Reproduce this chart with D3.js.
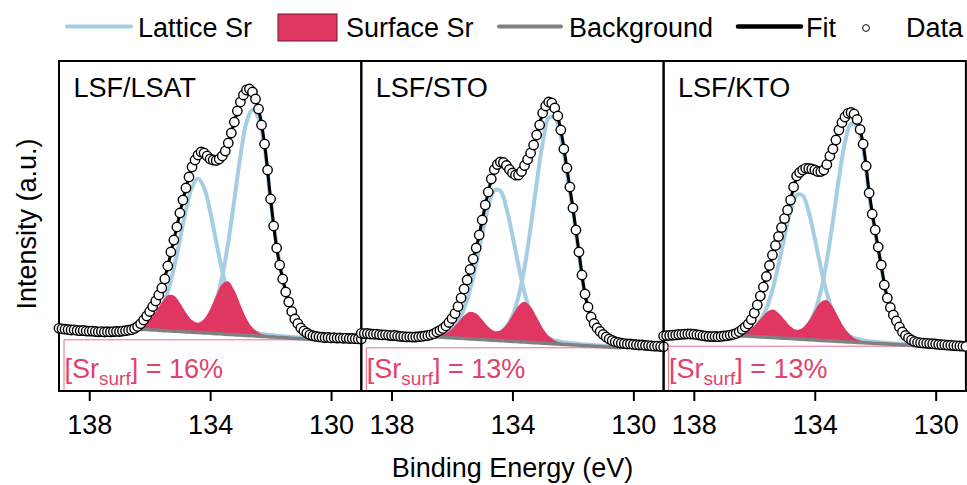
<!DOCTYPE html>
<html>
<head>
<meta charset="utf-8">
<script src="https://cdn.jsdelivr.net/npm/d3@7"></script>
<style>
  body { margin: 0; background: #fff; }
  svg { display: block; }
  text { font-family: "Liberation Sans", Arial, sans-serif; }
</style>
</head>
<body>
<div id="chart"></div>
<script>

// panel titles and surface fractions
let panelNames = ["LSF/LSAT", "LSF/STO", "LSF/KTO"];
let surfPercent = [16, 13, 13];
let xTicks = [138, 134, 130];

// binding energy of the measured points (eV)
let dataEnergy = [139.0,138.9,138.8,138.7,138.6,138.5,138.4,138.3,138.2,138.1,138.0,137.9,137.8,137.7,137.6,137.5,137.4,137.3,137.2,137.1,137.0,136.9,136.8,136.7,136.6,136.5,136.4,136.3,136.2,136.1,136.0,135.9,135.8,135.7,135.6,135.5,135.4,135.3,135.2,135.1,135.0,134.9,134.8,134.7,134.6,134.5,134.4,134.3,134.2,134.1,134.0,133.9,133.8,133.7,133.6,133.5,133.4,133.3,133.2,133.1,133.0,132.9,132.8,132.7,132.6,132.5,132.4,132.3,132.2,132.1,132.0,131.9,131.8,131.7,131.6,131.5,131.4,131.3,131.2,131.1,131.0,130.9,130.8,130.7,130.6,130.5,130.4,130.3,130.2,130.1,130.0,129.9,129.8,129.7,129.6,129.5,129.4,129.3,129.2,129.1,129.0];

// binding energy of the fit / component curves (eV)
let compEnergy = [136.6,136.4,136.2,136.0,135.8,135.6,135.4,135.2,135.0,134.8,134.6,134.4,134.2,134.0,133.8,133.6,133.4,133.2,133.0,132.8,132.6,132.4,132.2,132.0,131.8,131.6,131.4,131.2,131.0,130.8,130.6,130.4];

// LSF/LSAT
let dataLSAT = [62.7,62.2,61.8,61.5,61.0,61.2,60.6,60.3,60.5,60.0,59.8,59.9,59.5,59.2,59.4,59.0,59.3,59.1,59.4,59.6,59.5,59.9,60.3,60.8,61.3,62.6,64.5,67.3,71,75,79.5,84.5,90,96,103,112,125,139,151,164,178,191,203,214,224,231,236,239,238,235,232,231,230.5,232,235,240,248,258,269,280,289,296,301,302,299,292,282,266,247,221,192,165,143,126,112,99,89,79.5,72,67.5,63,60,58,56.3,55.3,54.6,54.2,53.8,53.4,53.6,53.1,53.3,52.9,53.1,52.7,52.9,52.5,52.6,52.3,52.1,52.0];
let fitLSAT = [61.8,64.5,71,79.5,90,103,125,151,178,203,224,235,236,230,229,234,248,269,289,300.5,299,282,247,192,143,112,89,72,63,58,55.3,54.2];
let bgLSAT = [62.4,62.0,61.6,61.3,60.9,60.5,60.2,59.8,59.5,59.1,58.8,58.4,58.1,57.7,57.3,57.0,56.6,56.2,55.9,55.5,55.2,54.8,54.4,54.1,53.7,53.4,53.0,52.6,52.3,51.9,51.5,51.2];
let lat52LSAT = [1.0,1.1,1.2,1.4,1.6,1.7,2.0,2.3,2.7,3.3,4.4,6.4,10.6,18.8,33.7,57.8,92.4,135.0,178.8,212.9,226.0,218.0,190.0,136.0,92.4,57.8,33.7,18.8,10.6,6.4,4.4,3.3];
let lat32LSAT = [2.3,3.0,4.4,7.2,12.8,22.9,39.4,63.0,92.0,121.8,145.1,154.0,145.1,121.8,92.0,63.0,39.4,22.9,12.8,7.2,4.4,3.0,2.3,1.8,1.6,1.4,1.2,1.1,0.9,0.85,0.75,0.7];
let surfLSAT = [1.2,2.2,4.8,10.0,18.3,28.2,35.5,35.6,28.5,19.2,12.1,9.9,13.9,24.1,38.0,50.0,53.0,44.5,30.4,17.1,8.3,3.8,1.8,1.1,0.8,0.6,0.5,0.4,0.3,0.3,0.2,0.2];

// LSF/STO
let dataSTO = [57.7,57.4,57.5,57.0,56.8,56.9,56.4,56.1,56.2,55.7,55.4,55.5,55.0,54.6,54.4,54.1,54.2,53.9,54.0,54.3,54.6,55.1,55.5,56.2,57.3,59,60.5,62.5,65,68.5,72.5,77.5,84.5,93,102,111,121.5,132,143,156,171,186,199,212,221.5,226.5,229,228.5,225.5,221.5,218,216,216,219.5,225.5,231.5,238,246,256,266,278,285,289,288,283,275,261,242,223,204,183,161,139,116,97,84,74,67.5,63,59.5,56.5,54,52,50.5,49.3,48.5,47.8,47.4,47.0,47.1,46.6,46.3,46.0,46.1,45.6,45.4,45.1,44.8,44.9,44.5,44.3];
let fitSTO = [57.3,60.5,65,72.5,84.5,102,121.5,143,171,199,220,227.5,224,216.5,214.5,224,238,256,277.5,288.5,283,261,223,183,139,97,74,63,56.5,52,49.3,47.8];
let bgSTO = [54.2,53.9,53.5,53.2,52.8,52.5,52.1,51.7,51.4,51.0,50.7,50.3,50.0,49.6,49.3,48.9,48.5,48.2,47.8,47.5,47.1,46.8,46.4,46.1,45.7,45.3,45.0,44.6,44.3,43.9,43.6,43.2];
let lat52STO = [1.1,1.2,1.3,1.5,1.7,1.9,2.2,2.5,3.0,3.8,5.3,8.2,14.2,25.6,45.1,74.8,114.5,159.4,200.4,225.6,226.0,208.0,172.0,134.0,91.0,51.0,27.6,17.1,11.1,7.1,4.9,3.8];
let lat32STO = [2.5,3.5,5.5,9.4,17.0,29.9,49.7,76.0,105.8,133.0,149.8,149.8,133.0,105.8,76.0,49.7,29.9,17.0,9.4,5.5,3.5,2.5,2.0,1.7,1.4,1.25,1.1,1.0,0.9,0.8,0.7,0.7];
let surfSTO = [1.0,2.0,4.3,8.9,15.6,22.9,27.2,25.8,19.9,13.2,9.4,10.2,16.2,26.1,36.0,40.3,35.9,25.7,15.2,7.6,3.4,1.6,0.9,0.6,0.5,0.4,0.3,0.25,0.2,0.2,0.15,0.15];

// LSF/KTO
let dataKTO = [55.0,55.4,55.6,55.9,56.1,56.5,56.7,56.9,57.1,57.0,56.8,56.3,55.9,55.3,54.9,54.6,54.4,54.5,54.3,54.6,55.0,55.3,55.9,56.6,57.6,59.3,61.5,64,67,71.5,78,86,95,104,114.5,125.5,136,145.5,154.5,163.5,172.5,181,191,204,215,218.5,221,222.7,222.5,222,221,219.5,219.5,221,226.5,235,242,251,261,268.5,274,277.7,278.5,277,271.5,261.5,247,225,198,177,161,144,126,106,93,83.5,76,70,64,59,55.5,53,51,49.5,48.7,48.2,47.9,47.7,47.4,47.3,47.0,46.6,46.3,46.2,45.8,45.7,45.4,45.2,45.0,44.8,44.6];
let fitKTO = [57.6,61.5,67,78,95,114.5,136,154.5,172.5,191.5,213,220.5,222,220.5,218.5,226,242,261,274,278.5,271.5,247,199,160,125,93,76,64,55.5,51,48.7,47.9];
let bgKTO = [55.4,55.1,54.7,54.4,54.1,53.7,53.4,53.0,52.7,52.4,52.0,51.7,51.3,51.0,50.6,50.3,50.0,49.6,49.3,48.9,48.6,48.3,47.9,47.6,47.2,46.9,46.6,46.2,45.9,45.5,45.2,44.8];
let lat52KTO = [1.1,1.1,1.3,1.4,1.6,1.8,2.1,2.5,3.0,3.9,5.5,9.0,15.7,28.3,49.2,80.2,120.0,163.0,199.5,218.2,216.0,194.0,147.0,111.0,77.0,44.5,28.0,16.6,8.6,4.8,3.3,2.8];
let lat32KTO = [2.4,3.4,5.3,9.1,16.3,28.7,47.7,73.0,101.6,127.8,143.8,143.8,127.8,101.6,73.0,47.7,28.7,16.3,9.1,5.3,3.4,2.4,1.9,1.6,1.4,1.2,1.05,0.95,0.85,0.75,0.7,0.65];
let surfKTO = [1.2,2.5,5.3,10.6,17.8,24.9,28.0,25.1,18.5,12.1,9.2,11.4,18.6,29.2,38.3,40.5,34.0,23.2,13.1,6.4,2.8,1.4,0.85,0.6,0.5,0.4,0.3,0.25,0.2,0.2,0.18,0.16];

let legendLabels = ["Lattice Sr", "Surface Sr", "Background", "Fit", "Data"];

// colours
let latColor = "#a6cee3";
let surfColor = "#df3761";
let bgColor = "#808080";
let noteColor = "#e2416a";

let panels = [
  {name: panelNames[0], pct: surfPercent[0], data: dataLSAT, fit: fitLSAT, bg: bgLSAT, l52: lat52LSAT, l32: lat32LSAT, surf: surfLSAT},
  {name: panelNames[1], pct: surfPercent[1], data: dataSTO, fit: fitSTO, bg: bgSTO, l52: lat52STO, l32: lat32STO, surf: surfSTO},
  {name: panelNames[2], pct: surfPercent[2], data: dataKTO, fit: fitKTO, bg: bgKTO, l52: lat52KTO, l32: lat32KTO, surf: surfKTO}
];

let width = 967, height = 485;
let margin = {left: 59, top: 61, bottom: 391};
let panelW = 302.3;

let svg = d3.select("#chart")
  .append("svg")
  .attr("width", width)
  .attr("height", height);

svg.append("rect").attr("width", width).attr("height", height).attr("fill", "#fff");

let y = d3.scaleLinear()
  .domain([0, 330])
  .range([margin.bottom, margin.top]);

let curve = d3.curveCatmullRom.alpha(0.5);

panels.forEach(function(p, i){

  let x0 = margin.left + i * panelW;
  let x = d3.scaleLinear()
    .domain([139, 129])
    .range([x0, x0 + panelW]);

  let g = svg.append("g").attr("class", "panel");

  let comp = compEnergy.map(function(e, k){
    return {e: e, bg: p.bg[k], l52: p.l52[k], l32: p.l32[k], surf: p.surf[k], fit: p.fit[k]};
  });

  // thin box behind the [Sr_surf] label
  let boxTop = y(d3.min(p.bg));
  g.append("path")
    .attr("d", "M" + (x0 + 5) + "," + margin.bottom + "V" + boxTop + "H" + (x0 + panelW))
    .attr("fill", "none")
    .attr("stroke", "#ec6a8a")
    .attr("stroke-width", 1);

  // lattice doublet
  ["l52", "l32"].forEach(function(key){
    g.append("path")
      .datum(comp)
      .attr("d", d3.line().curve(curve).x(d => x(d.e)).y(d => y(d.bg + d[key])))
      .attr("fill", "none")
      .attr("stroke", latColor)
      .attr("stroke-width", 4);
  });

  // surface doublet
  g.append("path")
    .datum(comp)
    .attr("d", d3.area().curve(curve).x(d => x(d.e)).y0(d => y(d.bg)).y1(d => y(d.bg + d.surf)))
    .attr("fill", surfColor);

  // background
  g.append("path")
    .datum(comp)
    .attr("d", d3.line().curve(curve).x(d => x(d.e)).y(d => y(d.bg)))
    .attr("fill", "none")
    .attr("stroke", bgColor)
    .attr("stroke-width", 3.5);

  // fit
  g.append("path")
    .datum(comp)
    .attr("d", d3.line().curve(curve).x(d => x(d.e)).y(d => y(d.fit)))
    .attr("fill", "none")
    .attr("stroke", "#000")
    .attr("stroke-width", 3);

  // frame
  g.append("rect")
    .attr("x", x0)
    .attr("y", margin.top)
    .attr("width", panelW)
    .attr("height", margin.bottom - margin.top)
    .attr("fill", "none")
    .attr("stroke", "#000")
    .attr("stroke-width", 2);

  // ticks
  let axis = d3.axisBottom(x).tickValues(xTicks).tickSize(10).tickPadding(14).tickFormat(d3.format("d"));
  let ax = g.append("g")
    .attr("transform", "translate(0," + margin.bottom + ")")
    .call(axis);
  ax.select(".domain").remove();
  ax.selectAll("line").attr("stroke", "#000").attr("stroke-width", 2);
  ax.selectAll("text")
    .attr("fill", "#000")
    .style("font-size", "27px")
    .style("font-family", "'Liberation Sans', Arial, sans-serif");

  // data points
  g.selectAll(".pt")
    .data(p.data)
    .enter()
    .append("circle")
    .attr("class", "pt")
    .attr("cx", (d, k) => x(dataEnergy[k]))
    .attr("cy", d => y(d))
    .attr("r", 4.7)
    .attr("fill", "#fff")
    .attr("stroke", "#000")
    .attr("stroke-width", 1.4);

  // panel name
  g.append("text")
    .attr("x", x0 + 14.5)
    .attr("y", 97)
    .style("font-size", "27px")
    .attr("fill", "#000")
    .text(p.name);

  // surface fraction
  let note = g.append("text")
    .attr("x", x0 + 5.5)
    .attr("y", 378)
    .attr("fill", noteColor)
    .style("font-size", "27px");
  note.append("tspan").text("[Sr");
  note.append("tspan").attr("dy", 7).style("font-size", "19px").text("surf");
  note.append("tspan").attr("dy", -7).text("] = " + p.pct + "%");
});

// axis titles
svg.append("text")
  .attr("x", 512.5)
  .attr("y", 477)
  .attr("text-anchor", "middle")
  .style("font-size", "27px")
  .text("Binding Energy (eV)");

svg.append("text")
  .attr("transform", "translate(36,224) rotate(-90)")
  .attr("text-anchor", "middle")
  .style("font-size", "27px")
  .text("Intensity (a.u.)");

// legend
let leg = svg.append("g").attr("class", "legend");
let legY = 26.5, legText = 36.5;

leg.append("line").attr("x1", 67).attr("x2", 131).attr("y1", legY).attr("y2", legY)
  .attr("stroke", latColor).attr("stroke-width", 4).attr("stroke-linecap", "round");
leg.append("text").attr("x", 138).attr("y", legText).style("font-size", "27px").text(legendLabels[0]);

leg.append("rect").attr("x", 278).attr("y", 14).attr("width", 59).attr("height", 27)
  .attr("fill", surfColor).attr("stroke", "#6e1a2c").attr("stroke-width", 1);
leg.append("text").attr("x", 346).attr("y", legText).style("font-size", "27px").text(legendLabels[1]);

leg.append("line").attr("x1", 499).attr("x2", 561).attr("y1", legY).attr("y2", legY)
  .attr("stroke", bgColor).attr("stroke-width", 4).attr("stroke-linecap", "round");
leg.append("text").attr("x", 569).attr("y", legText).style("font-size", "27px").text(legendLabels[2]);

leg.append("line").attr("x1", 738).attr("x2", 801).attr("y1", legY).attr("y2", legY)
  .attr("stroke", "#000").attr("stroke-width", 4.5).attr("stroke-linecap", "round");
leg.append("text").attr("x", 806).attr("y", legText).style("font-size", "27px").text(legendLabels[3]);

leg.append("circle").attr("cx", 866).attr("cy", 28).attr("r", 3.4)
  .attr("fill", "#fff").attr("stroke", "#000").attr("stroke-width", 1);
leg.append("text").attr("x", 906).attr("y", legText).style("font-size", "27px").text(legendLabels[4]);

</script>
</body>
</html>
